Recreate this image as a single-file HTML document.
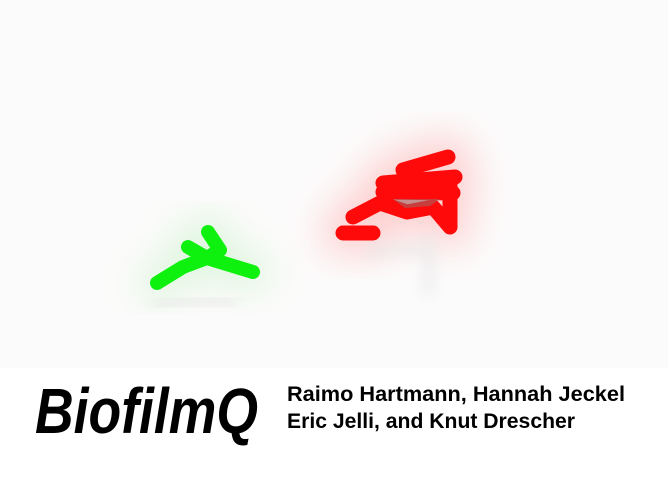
<!DOCTYPE html>
<html><head><meta charset="utf-8"><style>
html,body{margin:0;padding:0;background:#fff;}
svg{display:block}
</style></head><body>
<svg width="668" height="500" viewBox="0 0 668 500">
<defs>
<filter id="glow" x="-60%" y="-60%" width="220%" height="220%"><feGaussianBlur stdDeviation="18"/></filter>
<filter id="shadow" x="-50%" y="-50%" width="200%" height="200%"><feGaussianBlur stdDeviation="7"/></filter>
</defs>
<rect x="0" y="0" width="668" height="500" fill="#fcfbfb"/>
<g>
 <g filter="url(#glow)" stroke="#bff0bf" stroke-width="40" stroke-linecap="round" fill="none" opacity="0.45">
  <polyline points="157,283 183,267 207,258 253,272"/><polyline points="188,247 207,258"/><polyline points="208,232 220,250 207,258"/>
 </g>
 <g filter="url(#shadow)" stroke="#e6e6e6" stroke-width="14" stroke-linecap="round" fill="none" opacity="0.6">
  <polyline points="160,305 185,300 230,300"/>
 </g>
 <g stroke="#0ef00e" stroke-width="14" stroke-linecap="round" stroke-linejoin="round" fill="none">
  <polyline points="157,283 183,267 207,258 253,272"/><polyline points="188,247 207,258"/><polyline points="208,232 220,250 207,258"/>
 </g>
</g>
<g>
 <g filter="url(#glow)" stroke="#ffa0a0" stroke-width="44" stroke-linecap="round" fill="none" opacity="0.45">
  <polyline points="353,217 380,203 407,212 433,207 450,227"/><polyline points="403,170 448,157"/><polyline points="383,183 455,177"/><polyline points="383,192 453,193"/><polyline points="343,233 373,233"/>
 </g>
 <g filter="url(#shadow)" stroke="#e6e6e6" stroke-width="12" stroke-linecap="round" fill="none" opacity="0.6">
  <polyline points="430,240 428,290"/><polyline points="370,250 420,250"/>
 </g>
 <g stroke="#ff0a0a" stroke-width="15" stroke-linecap="round" stroke-linejoin="round" fill="none">
  <polyline points="353,217 380,203 407,212 433,207 450,227"/><polyline points="403,170 448,157"/><polyline points="383,183 455,177"/><polyline points="383,192 453,193"/><polyline points="343,233 373,233"/>
  <polyline points="450,180 450,225"/>
 </g>
 <path d="M393,199 L440,199 L430,206 L405,208 Z" fill="#a06060" opacity="0.6"/>
</g>
<rect x="0" y="368" width="668" height="132" fill="#ffffff"/>
<text x="35" y="433" font-family="'Liberation Sans',sans-serif" font-weight="bold" font-style="italic" font-size="64" textLength="223" lengthAdjust="spacingAndGlyphs" fill="#000">BiofilmQ</text>
<text x="287" y="401" font-family="'Liberation Sans',sans-serif" font-weight="bold" font-size="21" textLength="338" lengthAdjust="spacingAndGlyphs" fill="#000">Raimo Hartmann, Hannah Jeckel</text>
<text x="287" y="428" font-family="'Liberation Sans',sans-serif" font-weight="bold" font-size="21" textLength="288" lengthAdjust="spacingAndGlyphs" fill="#000">Eric Jelli, and Knut Drescher</text>
</svg>
</body></html>
